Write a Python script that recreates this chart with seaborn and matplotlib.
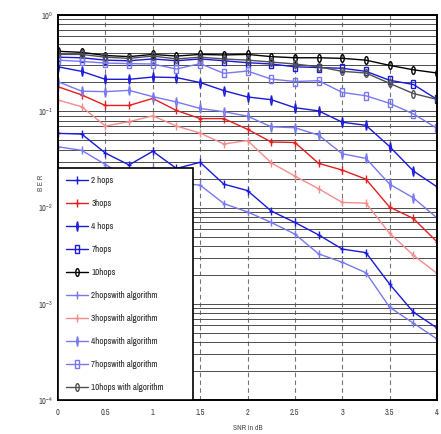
import numpy as np
import pandas as pd
import matplotlib
matplotlib.use("Agg")
import matplotlib.pyplot as plt
import seaborn as sns
from matplotlib import font_manager
from matplotlib.markers import MarkerStyle
from matplotlib.transforms import Affine2D
from matplotlib.ticker import FixedLocator, LogLocator, NullFormatter

# SNR axis (dB)
snr = np.arange(0, 4.01, 0.25)

# BER values
ber_2hops = [0.059, 0.058, 0.0368, 0.0277, 0.0384, 0.0255, 0.0295, 0.0175, 0.015,
             0.0092, 0.007, 0.0052, 0.0037, 0.0034, 0.0016, 0.00082, 0.00056]
ber_3hops = [0.18, 0.148, 0.115, 0.115, 0.136, 0.102, 0.084, 0.084, 0.065,
             0.048, 0.0474, 0.0288, 0.0245, 0.0197, 0.0101, 0.0077, 0.0044]
ber_4hops = [0.29, 0.26, 0.215, 0.215, 0.227, 0.224, 0.199, 0.164, 0.141,
             0.132, 0.109, 0.101, 0.077, 0.0715, 0.043, 0.024, 0.0164]
ber_7hops = [0.365, 0.36, 0.34, 0.335, 0.35, 0.335, 0.35, 0.335, 0.32,
             0.31, 0.29, 0.285, 0.28, 0.26, 0.21, 0.19, 0.133]
ber_10hops = [0.42, 0.41, 0.38, 0.37, 0.39, 0.375, 0.39, 0.385, 0.39,
              0.37, 0.36, 0.36, 0.355, 0.34, 0.30, 0.27, 0.25]
ber_2hops_alg = [0.0428, 0.0393, 0.028, 0.0202, 0.0257, 0.018, 0.0171, 0.011, 0.009,
                 0.007, 0.0053, 0.0033, 0.0027, 0.0021, 0.00092, 0.00063, 0.00043]
ber_3hops_alg = [0.131, 0.1115, 0.0703, 0.078, 0.0897, 0.0703, 0.0594, 0.0457, 0.0497,
                 0.0292, 0.0212, 0.0157, 0.0113, 0.0111, 0.0054, 0.0032, 0.00207]
ber_4hops_alg = [0.203, 0.162, 0.16, 0.165, 0.142, 0.125, 0.107, 0.099, 0.089,
                 0.069, 0.0675, 0.0566, 0.0362, 0.0324, 0.0175, 0.0126, 0.0078]
ber_7hops_alg = [0.34, 0.33, 0.317, 0.313, 0.31, 0.275, 0.313, 0.248, 0.262,
                 0.216, 0.204, 0.208, 0.157, 0.145, 0.121, 0.094, 0.0665]
ber_10hops_alg = [0.39, 0.39, 0.365, 0.355, 0.375, 0.35, 0.365, 0.35, 0.34,
                  0.325, 0.31, 0.29, 0.26, 0.25, 0.195, 0.153, 0.133]

labels = ["2 hops", "3hops", "4 hops", "7hops", "10hops",
          "2hopswith algorithm", "3hopswith algorithm", "4hopswith algorithm",
          "7hopswith algorithm", "10hops with algorithm"]
series = [ber_2hops, ber_3hops, ber_4hops, ber_7hops, ber_10hops,
          ber_2hops_alg, ber_3hops_alg, ber_4hops_alg, ber_7hops_alg, ber_10hops_alg]

colors = ["#1a1ad8", "#e61e1e", "#1a1ad8", "#1a1ad8", "#000000",
          "#7878f0", "#f58c8c", "#7878f0", "#7878f0", "#505050"]
marker_kinds = ["+", "+", "d", "s", "o", "+", "+", "d", "s", "o"]

sns.set_style("white")

# pick a narrow font if one is installed
names = sorted({f.name for f in font_manager.fontManager.ttflist})
narrow = [n for n in names if "Narrow" in n or "Condensed" in n]
if narrow:
    plt.rcParams["font.family"] = [narrow[0], "DejaVu Sans"]
else:
    plt.rcParams["font.family"] = ["Liberation Sans", "DejaVu Sans"]
plt.rcParams["mathtext.fontset"] = "dejavusans"

fig = plt.figure(figsize=(4.41, 4.34), dpi=100)
ax = fig.add_axes([0.1315, 0.0783, 0.8595, 0.887])

squeeze = Affine2D().scale(0.45, 1.0)
for vals, lab, col, mk in zip(series, labels, colors, marker_kinds):
    df = pd.DataFrame({"snr": snr, "ber": vals})
    sns.lineplot(data=df, x="snr", y="ber", ax=ax, color=col, linewidth=1.0,
                 marker=MarkerStyle(mk, transform=squeeze), markersize=5.5,
                 markeredgecolor=col, markerfacecolor="none", markeredgewidth=1.0,
                 label=lab)

ax.set_yscale("log")
ax.set_ylim(1e-4, 1)
ax.set_xlim(0, 4)
ax.xaxis.set_major_locator(FixedLocator(np.arange(0, 4.01, 0.5)))
ax.set_xticklabels(["0", "0.5", "1", "1.5", "2", "2.5", "3", "3.5", "4"])
ax.yaxis.set_major_locator(LogLocator(base=10, numticks=10))
ax.yaxis.set_minor_locator(LogLocator(base=10, subs=np.arange(2, 10), numticks=20))
ax.yaxis.set_minor_formatter(NullFormatter())

ax.grid(True, axis="y", which="both", color="0.3", linewidth=0.7, linestyle="-")
ax.grid(True, axis="x", which="major", color="0.45", linewidth=0.8, linestyle=(0, (4, 3)))
ax.tick_params(axis="both", which="both", direction="in", labelsize=6, length=2, color="0.2")
ax.tick_params(axis="x", pad=6)
for lbl in ax.get_xticklabels() + ax.get_yticklabels():
    lbl.set_color("0.25")

for sp in ax.spines.values():
    sp.set_color("black")
    sp.set_linewidth(1.4)

ax.set_xlabel("SNR in dB", fontsize=5.5, color="0.3")
ax.xaxis.set_label_coords(0.5, -0.065)
ax.set_ylabel("B E R", fontsize=5.5, color="0.3")
ax.yaxis.set_label_coords(-0.038, 0.565)

leg = ax.legend(loc="lower left", bbox_to_anchor=(0, 0, 0.357, 1), mode="expand",
                borderaxespad=0, fancybox=False, edgecolor="black", framealpha=1,
                fontsize=6.5, handlelength=2.4, labelspacing=1.55, borderpad=0.9,
                handletextpad=0.4)
leg.get_frame().set_linewidth(1.2)
for t in leg.get_texts():
    t.set_color("0.15")

fig.savefig("out.png", dpi=100)
